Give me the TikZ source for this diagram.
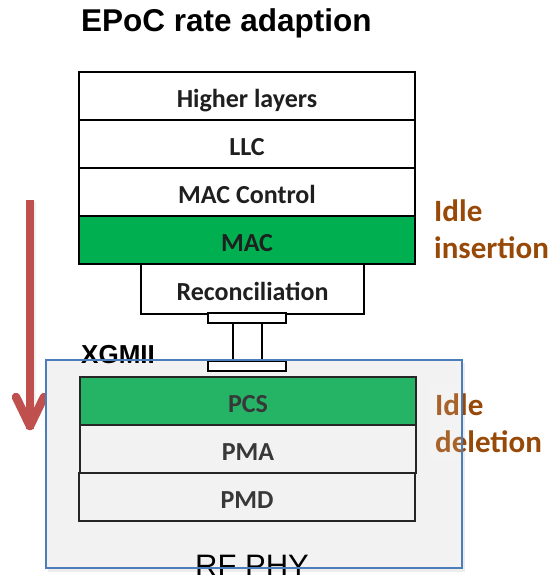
\documentclass[tikz,border=0pt]{standalone}
\usepackage{fontspec}
\setmainfont{Carlito}
\newfontfamily\arialfont{Liberation Sans}

\definecolor{macgreen}{HTML}{00B050}
\definecolor{pcsgreen}{HTML}{25B466}
\definecolor{phygray}{HTML}{F2F2F2}
\definecolor{phyblue}{HTML}{4A7EBB}
\definecolor{idlebrown}{HTML}{984807}
\definecolor{arrowred}{HTML}{C0504D}
\definecolor{darkline}{HTML}{262626}

\tikzset{
  layerbox/.style={draw=black, line width=2pt, fill=white,
    minimum width=336pt, minimum height=48pt, inner sep=0pt,
    anchor=north west, text=black!88,
    font=\bfseries\fontsize{26}{26}\selectfont,
    text height=22pt, text depth=0pt},
  phybox/.style={layerbox, draw=darkline, fill=phygray, text=black!78},
  plate/.style={draw=black, line width=1.5pt, fill=white,
    minimum width=78pt, minimum height=10pt, inner sep=0pt,
    anchor=north west},
  idletext/.style={anchor=base west, inner sep=0pt, text=idlebrown,
    font=\bfseries\fontsize{31}{37}\selectfont},
  sanslabel/.style={anchor=base west, inner sep=0pt, text=black},
}

\begin{document}
\begin{tikzpicture}[x=1pt, y=-1pt]
  \useasboundingbox (0,0) rectangle (553,575);

  % downward red arrow on the left
  \coordinate (arrtop) at (30,200);
  \coordinate (arrtip) at (30,426);
  \fill[black, opacity=0.06] (28,202) rectangle (36,420);
  \draw[arrowred, line width=8pt] (arrtop) -- ([yshift=-3pt]arrtip);
  \draw[arrowred, line width=8.5pt, line join=round, line cap=round]
    (16,397) -- (arrtip) -- (44,397);

  % RF PHY container: shadow and fill
  \fill[black, opacity=0.07] (48,363) rectangle (465,572);
  \fill[phygray] (46,360) rectangle (462,568);

  % labels partly covered by the container
  \node[sanslabel, font=\arialfont\bfseries\fontsize{26}{26}\selectfont]
    (xgmii) at (81,363) {XGMII};
  \node[idletext] (idle2) at (435,415) {Idle};
  \node[idletext] (deletion) at (435,452) {deletion};
  \node[anchor=base, inner sep=0pt, font=\arialfont\fontsize{31}{31}\selectfont]
    (rfphy) at (252,576) {RF PHY};
  \fill[white, opacity=0.15] (430,385) rectangle (461,460);

  % lower plate of the XGMII connector and its two posts
  \node[plate] (plateB) at (207,360) {};
  \node[plate] (plateA) at (207,312) {};
  \draw[black, line width=1.5pt]
    ([xshift=26pt]plateA.south west) -- ([xshift=26pt]plateB.north west);
  \draw[black, line width=1.5pt]
    ([xshift=55pt]plateA.south west) -- ([xshift=55pt]plateB.north west);

  % container border
  \draw[phyblue, line width=1.5pt] (46,360) rectangle (462,568);

  % PHY sublayers
  \node[phybox, fill=pcsgreen] (pcs) at (79,376) {PCS};
  \node[phybox] (pma) at (79,424) {PMA};
  \node[phybox] (pmd) at (78,472) {PMD};

  % upper stack
  \node[layerbox] (higher) at (78,71) {Higher layers};
  \node[layerbox] (llc) at (78,119) {LLC};
  \node[layerbox] (macctl) at (78,167) {MAC Control};
  \node[layerbox, fill=macgreen] (mac) at (78,215) {MAC};
  \node[layerbox, minimum width=223pt, minimum height=50pt] (recon)
    at (140,263) {Reconciliation};
  \node[plate] at (207,312) {};

  % side notes and title
  \node[idletext] (idle1) at (434,221) {Idle};
  \node[idletext] (insertion) at (434,258) {insertion};
  \node[sanslabel, font=\arialfont\bfseries\fontsize{31.5}{31.5}\selectfont]
    (title) at (81,32) {EPoC rate adaption};
\end{tikzpicture}
\end{document}
